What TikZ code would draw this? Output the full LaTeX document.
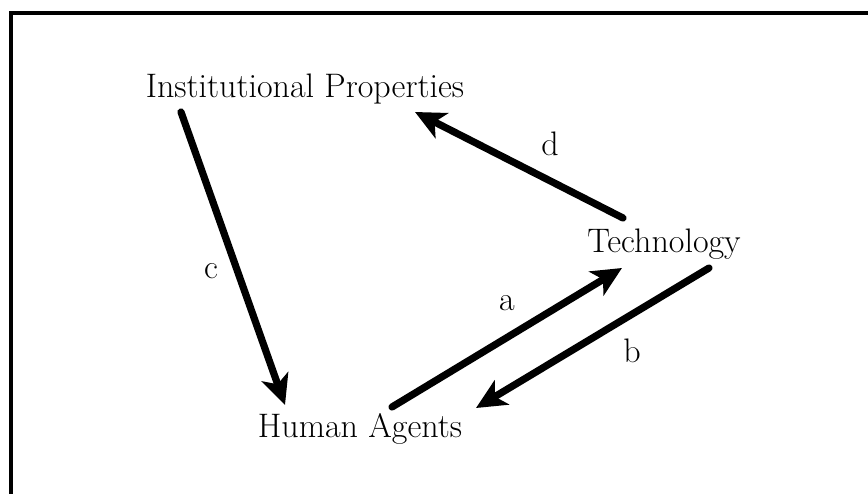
\documentclass[tikz,border=0pt]{standalone}
\usepackage{tikz}
\usetikzlibrary{arrows.meta,calc}

\begin{document}
\begin{tikzpicture}[x=0.5pt, y=-0.5pt,
    >={Stealth[length=15pt, width=14pt, inset=4pt]},
    txt/.style={font=\fontsize{17}{20}\selectfont, anchor=base, inner sep=0pt},
    arr/.style={->, line width=3.6pt, line cap=round}]
  \useasboundingbox (0,0) rectangle (868,493);
  \clip (0,0) rectangle (868,493);
  % frame, cut at right and bottom
  \draw[line width=1.7pt] (11,13) rectangle (900,530);

  \node[txt] (inst) at (305,97)  {Institutional Properties};
  \node[txt] (tech) at (664,252) {Technology};
  \node[txt] (hum)  at (360,437) {Human Agents};

  \draw[arr] ($(inst.base)+(-124,15)$) -- ($(hum.base)+(-75,-32)$);
  \draw[arr] ($(tech.base)+(-41,-34)$) -- ($(inst.base)+(110,15)$);
  \draw[arr] ($(hum.base)+(32,-30)$)   -- ($(tech.base)+(-42,16)$);
  \draw[arr] ($(tech.base)+(45,16)$)   -- ($(hum.base)+(116,-29)$);

  \node[txt] (lc) at (211,278) {c};
  \node[txt] (ld) at (550,155) {d};
  \node[txt] (la) at (507,310) {a};
  \node[txt] (lb) at (632,362) {b};
\end{tikzpicture}
\end{document}
